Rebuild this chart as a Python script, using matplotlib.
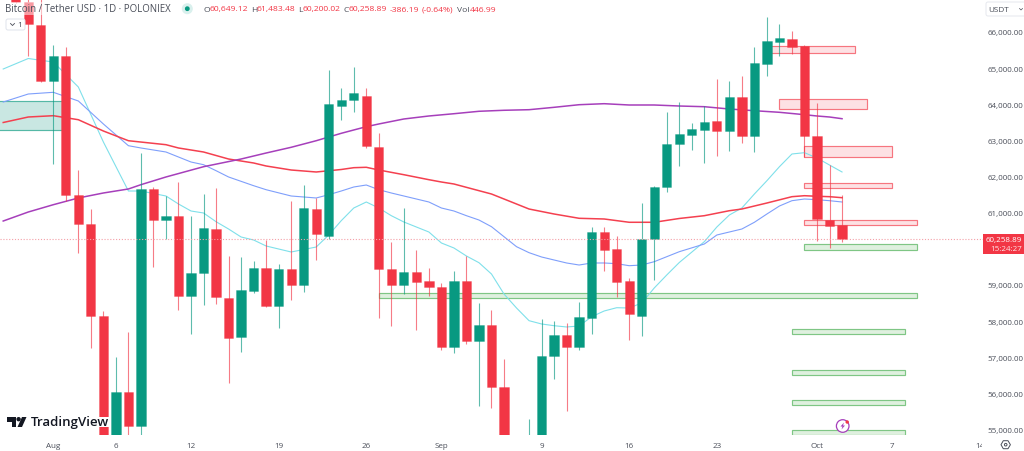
import matplotlib
matplotlib.use("Agg")
import matplotlib.pyplot as plt
from matplotlib.colors import to_rgba
from matplotlib.patches import Rectangle, Circle, Polygon, FancyBboxPatch
from matplotlib.transforms import Bbox
from matplotlib.ticker import FuncFormatter

plt.rcParams['font.family'] = ['Open Sans', 'DejaVu Sans']

UP = '#089981'
DOWN = '#F23645'
TEXT = '#4a4e59'

# Days counted from 1 Aug (first entry is 29 Jul)
first_day = -3
opens = [67200, 66827, 66191, 64650, 65342, 61497, 60687, 58150, 54000, 56048, 55099, 61655, 60805, 60908, 58695,
         59331, 60548, 58640, 57561, 58842, 59469, 58418, 59442, 59000, 61101, 60363, 63959, 64116, 64235, 62816,
         59442, 59000, 59359, 59110, 58944, 57276, 59110, 57450, 57893, 56186, 54000, 54150, 54800, 57035, 57616,
         57293, 58086, 60473, 59995, 59110, 58150, 60272, 61710, 62899, 63157, 63295, 63527, 63267, 64199, 63129,
         65120, 65729, 65804, 65610, 63129, 60797, 60649.12]
highs = [67500, 67200, 66950, 65638, 65582, 62180, 61101, 58288, 57016, 57699, 62650, 61718, 61461, 61848, 60908,
         61516, 61682, 59801, 59774, 59663, 60244, 59580, 61331, 61765, 61406, 64946, 64440, 65037, 64440, 63204,
         60197, 61129, 59967, 59469, 59055, 59395, 59801, 58501, 58308, 56952, 54700, 55293, 58059, 58003, 57948,
         58529, 60612, 60612, 60355, 59193, 61267, 61746, 63793, 64061, 63480, 63950, 64697, 64634, 64788, 65591,
         66404, 66219, 66033, 65646, 64033, 62327, 61483.48]
lows = [66800, 65333, 64628, 62346, 61323, 59884, 57257, 53600, 53300, 54600, 54700, 59506, 60272, 58308, 57644,
        58446, 58474, 56297, 57146, 58787, 58404, 57818, 58593, 58814, 59699, 60272, 63571, 63776, 62797, 58095,
        57865, 58750, 57755, 58703, 57201, 57127, 57375, 55652, 55606, 53800, 53700, 53700, 54600, 56399, 55523,
        57201, 57644, 59395, 58676, 57478, 57597, 59138, 61572, 62299, 62742, 62374, 62576, 62714, 62927, 62678,
        64788, 65342, 65389, 62540, 60216, 60014, 60200.02]
closes = [66835, 66219, 64650, 65342, 61497, 60687, 58142, 54000, 56048, 55099, 61655, 60805, 60908, 58695, 59340,
          60576, 58676, 57542, 58861, 59469, 58418, 59442, 59000, 61129, 60410, 64006, 64125, 64302, 62836, 59442,
          59000, 59359, 59091, 58936, 57276, 59110, 57450, 57893, 56170, 54000, 54150, 54800, 57044, 57616, 57284,
          58114, 60473, 59967, 59091, 58197, 60272, 61710, 62899, 63176, 63314, 63508, 63267, 64199, 63129, 65131,
          65748, 65823, 65591, 63129, 60825, 60631, 60258.89]
last_price = 60258.89

# Moving averages: day
cyan_days = [-4, -2, 0, 2, 4, 6, 7, 9, 10, 11, 12, 13, 14, 15, 16, 17, 19, 21, 22, 23, 24, 25, 26, 27, 28, 30, 31, 32,
             33, 34, 35, 36, 37, 38, 39, 40, 41, 42, 43, 44, 45, 46, 47, 48, 49, 50, 52, 53, 54, 55, 56, 57, 58, 59,
             60, 61, 62, 63]
cyan_vals = [64974, 65264, 65167, 64476, 62955, 61599, 61599, 61461, 61240, 61046, 60991, 60750, 60548, 60327, 60244,
             60078, 59912, 60050, 60382, 60778, 61129, 61295, 61129, 60916, 60742, 60465, 60161, 60023, 59801, 59616,
             59303, 58750, 58363, 58012, 57921, 57873, 57838, 57865, 58122, 58280, 58371, 58363, 58501, 58916, 59276,
             59621, 60197, 60603, 60935, 61129, 61516, 61884, 62271, 62623, 62659, 62512, 62318, 62125]
blue_days = [-4, -2, 0, 2, 4, 6, 7, 9, 11, 12, 13, 14, 16, 17, 19, 21, 22, 23, 24, 25, 26, 27, 28, 30, 31, 32, 33, 34,
             35, 36, 37, 38, 39, 40, 41, 42, 43, 44, 45, 46, 47, 48, 49, 50, 52, 53, 55, 56, 57, 58, 59, 60, 61, 62, 63]
blue_vals = [64061, 64282, 64329, 64089, 63453, 62852, 62789, 62678, 62401, 62327, 62161, 61987, 61746, 61635, 61461,
             61406, 61497, 61599, 61710, 61765, 61635, 61544, 61461, 61295, 61129, 61046, 60916, 60797, 60612, 60335,
             60059, 59893, 59774, 59691, 59608, 59552, 59608, 59608, 59589, 59533, 59552, 59644, 59782, 59920, 60133,
             60382, 60548, 60734, 60963, 61184, 61331, 61378, 61359, 61331, 61295]
red_days = [-4, -2, 0, 2, 4, 6, 9, 10, 12, 14, 16, 17, 19, 21, 23, 24, 25, 26, 28, 30, 31, 32, 34, 35, 36, 38, 40, 42,
            44, 46, 48, 50, 52, 54, 55, 57, 59, 60, 61, 62, 63]
red_vals = [63494, 63646, 63682, 63571, 63259, 62990, 62880, 62789, 62678, 62484, 62374, 62291, 62180, 62125, 62194,
            62244, 62255, 62180, 62050, 61912, 61848, 61793, 61608, 61516, 61378, 61101, 60963, 60844, 60825, 60734,
            60734, 60839, 60916, 61054, 61101, 61267, 61442, 61469, 61453, 61442, 61414]
purple_days = [-4, -2, 0, 2, 4, 6, 7, 9, 12, 15, 17, 19, 21, 23, 24, 25, 26, 28, 30, 32, 34, 36, 38, 40, 42, 44, 46, 48,
               50, 52, 54, 56, 58, 60, 61, 62, 63]
purple_vals = [60769, 61018, 61220, 61406, 61544, 61655, 61774, 61987, 62271, 62484, 62650, 62808, 62990, 63195, 63287,
               63378, 63453, 63591, 63674, 63737, 63804, 63832, 63848, 63914, 63986, 64014, 63978, 63978, 63950, 63931,
               63867, 63820, 63776, 63710, 63674, 63646, 63599]

# Zones: start day, end day, low, high
teal_zone = (-10, 1, 63278, 64080)
red_zones = [(57, 64, 65408, 65602), (58, 65, 63876, 64152), (60, 67, 62531, 62844),
             (60, 67, 61674, 61821), (60, 69, 60659, 60805)]
green_zones = [(60, 69, 59976, 60125), (26, 69, 58640, 58770), (59, 68, 57636, 57774),
               (59, 68, 56518, 56648), (59, 68, 55672, 55810), (59, 68, 54859, 54989)]

tick_days = [0, 5, 11, 18, 25, 31, 39, 46, 53, 61, 67, 74]
tick_names = ['Aug', '6', '12', '19', '26', 'Sep', '9', '16', '23', 'Oct', '7', '14']
price_ticks = [55000, 56000, 57000, 58000, 59000, 61000, 62000, 63000, 64000, 65000, 66000]

fig = plt.figure(figsize=(10.24, 4.52), dpi=100, facecolor='white')
ax = fig.add_axes([0, 16 / 452, 983 / 1024, 436 / 452])
ax.set_xlim(-4.257, 74.26)
ax.set_ylim(54850, 66910)
for s in ax.spines.values():
    s.set_visible(False)


def zone(z, face, edge):
    d0, d1, lo, hi = z
    ax.add_patch(Rectangle((d0, lo), d1 - d0, hi - lo, facecolor=face, edgecolor=edge, linewidth=0.85, zorder=1))


zone(teal_zone, '#c9e7e2', '#55b8a6')
for z in red_zones:
    zone(z, '#fde1e4', '#f6757f')
for z in green_zones:
    zone(z, '#dff0df', '#7fc685')

ax.plot(cyan_days, cyan_vals, color='#7fe0ea', lw=0.8, zorder=2)
ax.plot(blue_days, blue_vals, color='#7f9ffb', lw=0.8, zorder=2)
ax.plot(red_days, red_vals, color='#F4404F', lw=1.1, zorder=2)
ax.plot(purple_days, purple_vals, color='#A63FBB', lw=1.1, zorder=2)

days = [first_day + i for i in range(len(opens))]
colors = [UP if c >= o else DOWN for o, c in zip(opens, closes)]
ax.vlines(days, lows, highs, colors=colors, linewidth=0.8, alpha=0.65, zorder=3)
ax.bar(days, [abs(c - o) for o, c in zip(opens, closes)], bottom=[min(o, c) for o, c in zip(opens, closes)],
       width=0.74, color=colors, edgecolor=[to_rgba(c, 0.3) for c in colors], linewidth=0.7, zorder=4)
ax.axhline(last_price, color='#f4a0a8', lw=0.8, linestyle=(0, (1, 1.6)), zorder=5)

ax.yaxis.tick_right()
ax.set_yticks(price_ticks)
ax.yaxis.set_major_formatter(FuncFormatter(lambda v, _: f'{v:,.2f}'))
ax.set_xticks(tick_days)
ax.set_xticklabels(tick_names)
ax.tick_params(axis='both', length=0, labelsize=5.8, labelcolor=TEXT)
ax.tick_params(axis='y', pad=3.4)
ax.tick_params(axis='x', pad=4.8)
fig.canvas.draw()
for lab in ax.get_xticklabels():
    if lab.get_text() == '14':
        lab.set_clip_box(Bbox([[0, 0], [982, 452]]))
        lab.set_clip_on(True)

# Overlay in pixel coordinates for the interface furniture
ui = fig.add_axes([0, 0, 1, 1], zorder=10)
ui.set_xlim(0, 1024)
ui.set_ylim(452, 0)
ui.axis('off')
ui.patch.set_alpha(0)

# title row
ui.add_patch(Rectangle((4, 3), 170, 13, facecolor='white', alpha=0.5, linewidth=0))
ui.text(5, 10, 'Bitcoin / Tether USD · 1D · POLONIEX', fontsize=6.9, color=TEXT, va='center', ha='left')
ui.add_patch(Circle((187.3, 9.7), 5.5, facecolor='#d9f0ed', linewidth=0))
ui.add_patch(Circle((187.3, 9.7), 2.4, facecolor=UP, linewidth=0))
for x, s, col in [(203, 'O', TEXT), (210, '60,649.12', DOWN), (251, 'H', TEXT), (257, '61,483.48', DOWN),
                  (298, 'L', TEXT), (303, '60,200.02', DOWN), (344, 'C', TEXT), (348.5, '60,258.89', DOWN),
                  (390, '-386.19', DOWN), (422, '(-0.64%)', DOWN), (457, 'Vol', TEXT), (469.5, '446.99', DOWN)]:
    ui.text(x, 10, s, fontsize=6.1, color=col, va='center', ha='left')

# collapse button
ui.add_patch(FancyBboxPatch((6, 20), 19, 11, boxstyle='round,pad=0,rounding_size=2', facecolor='white',
                            edgecolor='#e0e3eb', linewidth=0.7))
ui.plot([10.5, 12.5, 14.5], [24.5, 26.5, 24.5], color=TEXT, lw=0.6)
ui.text(20, 25.5, '1', fontsize=6, color=TEXT, va='center', ha='center')

# currency button
ui.add_patch(FancyBboxPatch((986, 3), 40, 14, boxstyle='round,pad=0,rounding_size=2', facecolor='white',
                            edgecolor='#e6e8ee', linewidth=0.7))
ui.text(988, 10, 'USDT', fontsize=5.9, color=TEXT, va='center', ha='left')
ui.plot([1019.5, 1021, 1022.5], [9.5, 11, 9.5], color=TEXT, lw=0.5)

# last price tag
ui.add_patch(Rectangle((982.7, 235.3), 42, 20, facecolor=DOWN, linewidth=0))
ui.text(1022, 240.7, '60,258.89', fontsize=5.8, color='white', va='center', ha='right')
ui.text(1022, 250, '15:24:27', fontsize=5.8, color='#ffe4e6', va='center', ha='right')

# logo
ui.add_patch(Rectangle((5, 417.7), 104, 10.5, facecolor='white', linewidth=0))
ui.add_patch(Polygon([(7, 418), (16, 418), (16, 428), (11.5, 428), (11.5, 422.5), (7, 422.5)], facecolor='#131722',
                     linewidth=0))
ui.add_patch(Circle((18.6, 420.2), 2.2, facecolor='#131722', linewidth=0))
ui.add_patch(Polygon([(22, 418), (26.5, 418), (22, 428), (17.5, 428)], facecolor='#131722', linewidth=0))
ui.text(31, 422.6, 'TradingView', fontsize=9.5, fontweight='semibold', color='#131722', va='center', ha='left')

# alert icon
ui.add_patch(Circle((842.7, 427), 6.3, facecolor='white', edgecolor='#A63FBB', linewidth=0.9))
ui.add_patch(Polygon([(844, 423.5), (840.5, 427.5), (842.5, 427.5), (841.5, 430.5), (845, 426.5), (843, 426.5)],
                     facecolor='#A63FBB', linewidth=0))
ui.add_patch(Circle((847.2, 423), 1.7, facecolor=DOWN, linewidth=0))

# settings gear
ui.add_patch(Polygon([(1001, 445.7), (1003.3, 441.7), (1008, 441.7), (1010.4, 445.7), (1008, 449.7), (1003.3, 449.7)],
                     facecolor='white', edgecolor=TEXT, linewidth=0.7))
ui.add_patch(Circle((1005.7, 445.7), 1.3, facecolor='white', edgecolor=TEXT, linewidth=0.7))

fig.savefig('out.png', dpi=100)
